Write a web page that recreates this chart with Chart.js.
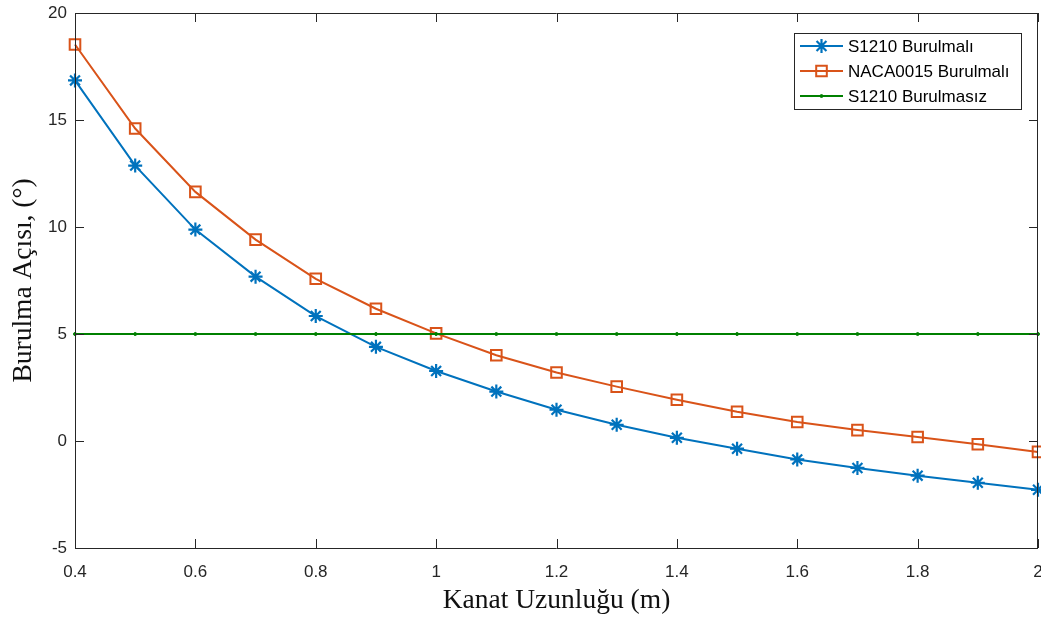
<!DOCTYPE html>
<html>
<head>
<meta charset="utf-8">
<script src="https://cdn.jsdelivr.net/npm/chart.js@4/dist/chart.umd.min.js"></script>
<style>
  body { margin: 0; background: #fff; }
  #wrap { width: 1041px; height: 620px; }
</style>
</head>
<body>
<div id="wrap"><canvas id="twistChart" width="1041" height="620"></canvas></div>
<script>
const spanValues = [0.4, 0.5, 0.6, 0.7, 0.8, 0.9, 1.0, 1.1, 1.2, 1.3, 1.4, 1.5, 1.6, 1.7, 1.8, 1.9, 2.0];
const s1210Twisted = [16.85, 12.87, 9.88, 7.68, 5.84, 4.40, 3.27, 2.31, 1.46, 0.76, 0.15, -0.36, -0.86, -1.26, -1.62, -1.95, -2.28];
const naca0015Twisted = [18.53, 14.6, 11.64, 9.41, 7.58, 6.18, 5.03, 4.01, 3.2, 2.54, 1.93, 1.37, 0.89, 0.51, 0.19, -0.15, -0.51];
const s1210Untwisted = [5, 5, 5, 5, 5, 5, 5, 5, 5, 5, 5, 5, 5, 5, 5, 5, 5];

const seriesNames = ["S1210 Burulmalı", "NACA0015 Burulmalı", "S1210 Burulmasız"];
const xTickLabels = ["0.4", "0.6", "0.8", "1", "1.2", "1.4", "1.6", "1.8", "2"];
const yTickLabels = ["-5", "0", "5", "10", "15", "20"];

const axisColor = "#262626";
const toPoints = (ys) => ys.map((y, i) => ({ x: spanValues[i], y }));

// MATLAB style box with inward ticks on all four sides
const boxAxes = {
  id: "boxAxes",
  afterDatasetsDraw(chart) {
    const { ctx, chartArea: a, scales } = chart;
    const len = 9;
    ctx.save();
    ctx.strokeStyle = axisColor;
    ctx.lineWidth = 1;
    ctx.beginPath();
    ctx.rect(a.left + 0.5, a.top + 0.5, a.right - a.left - 1, a.bottom - a.top);
    scales.x.ticks.forEach((t) => {
      const px = Math.round(scales.x.getPixelForValue(t.value)) + 0.5;
      ctx.moveTo(px, a.bottom); ctx.lineTo(px, a.bottom - len);
      ctx.moveTo(px, a.top); ctx.lineTo(px, a.top + len);
    });
    scales.y.ticks.forEach((t) => {
      const py = Math.round(scales.y.getPixelForValue(t.value)) + 0.5;
      ctx.moveTo(a.left, py); ctx.lineTo(a.left + len, py);
      ctx.moveTo(a.right, py); ctx.lineTo(a.right - len, py);
    });
    ctx.stroke();
    ctx.restore();
  },
};

// legend box in upper right corner
const boxLegend = {
  id: "boxLegend",
  afterDraw(chart) {
    const { ctx } = chart;
    const x0 = 794, y0 = 33, w = 227, h = 76;
    ctx.save();
    ctx.fillStyle = "#fff";
    ctx.fillRect(x0, y0, w, h);
    ctx.strokeStyle = axisColor;
    ctx.lineWidth = 1;
    ctx.strokeRect(x0 + 0.5, y0 + 0.5, w, h);
    chart.data.datasets.forEach((ds, i) => {
      const y = 46 + i * 25;
      ctx.strokeStyle = ds.borderColor;
      ctx.lineWidth = ds.borderWidth;
      ctx.beginPath();
      ctx.moveTo(800, y); ctx.lineTo(843, y);
      ctx.stroke();
      ctx.fillStyle = ds.pointBackgroundColor;
      ctx.lineWidth = ds.pointBorderWidth;
      Chart.helpers.drawPoint(ctx, { pointStyle: ds.pointStyle, radius: ds.pointRadius, borderWidth: ds.pointBorderWidth, rotation: 0 }, 821.5, y);
      ctx.fillStyle = "#000";
      ctx.font = "17px 'Liberation Sans', Arial, sans-serif";
      ctx.textBaseline = "middle";
      ctx.fillText(seriesNames[i], 848, y + 1);
    });
    ctx.restore();
  },
};

const data = {
  datasets: [
    {
      label: seriesNames[0],
      data: toPoints(s1210Twisted),
      borderColor: "#0072BD",
      borderWidth: 2,
      pointStyle: "star",
      pointRadius: 7,
      pointBorderWidth: 2.2,
      pointBackgroundColor: "#0072BD",
      pointBorderColor: "#0072BD",
      order: 2,
      clip: false,
    },
    {
      label: seriesNames[1],
      data: toPoints(naca0015Twisted),
      borderColor: "#D95319",
      borderWidth: 2,
      pointStyle: "rect",
      pointRadius: 7.5,
      pointBorderWidth: 2,
      pointBackgroundColor: "rgba(0,0,0,0)",
      pointBorderColor: "#D95319",
      order: 1,
      clip: false,
    },
    {
      label: seriesNames[2],
      data: toPoints(s1210Untwisted),
      borderColor: "#008000",
      borderWidth: 2,
      pointStyle: "circle",
      pointRadius: 1.5,
      pointBorderWidth: 1,
      pointBackgroundColor: "#008000",
      pointBorderColor: "#008000",
      order: 0,
      clip: false,
    },
  ],
};

const options = {
  responsive: false,
  animation: false,
  events: [],
  layout: { autoPadding: false, padding: { top: 13, right: 3, left: 0, bottom: 0 } },
  plugins: { legend: { display: false }, tooltip: { enabled: false } },
  elements: { line: { tension: 0 } },
  scales: {
    x: {
      type: "linear",
      min: 0.4,
      max: 2,
      grid: { display: false, drawTicks: false },
      border: { display: false },
      ticks: {
        stepSize: 0.2,
        autoSkip: false,
        maxRotation: 0,
        padding: 14,
        color: axisColor,
        font: { family: "'Liberation Sans', Arial, sans-serif", size: 17 },
        callback: (v, i) => xTickLabels[i],
      },
      title: {
        display: true,
        text: "Kanat Uzunluğu (m)",
        color: "#111",
        padding: { top: 0, bottom: 3 },
        font: { family: "'Liberation Serif', 'Times New Roman', serif", size: 27.5 },
      },
      afterFit(scale) {
        scale.height = 72;
        scale.paddingLeft = 0;
        scale.paddingRight = 0;
      },
    },
    y: {
      min: -5,
      max: 20,
      grid: { display: false, drawTicks: false },
      border: { display: false },
      ticks: {
        stepSize: 5,
        padding: 8,
        color: axisColor,
        font: { family: "'Liberation Sans', Arial, sans-serif", size: 17 },
        callback: (v, i) => yTickLabels[i],
      },
      title: {
        display: true,
        text: "Burulma Açısı, (°)",
        color: "#111",
        padding: { top: 7, bottom: 0 },
        font: { family: "'Liberation Serif', 'Times New Roman', serif", size: 27.5 },
      },
      afterFit(scale) {
        scale.width = 75;
        scale.paddingTop = 0;
        scale.paddingBottom = 0;
      },
    },
  },
};

new Chart("twistChart", { type: "line", data, options, plugins: [boxAxes, boxLegend] });
</script>
</body>
</html>
